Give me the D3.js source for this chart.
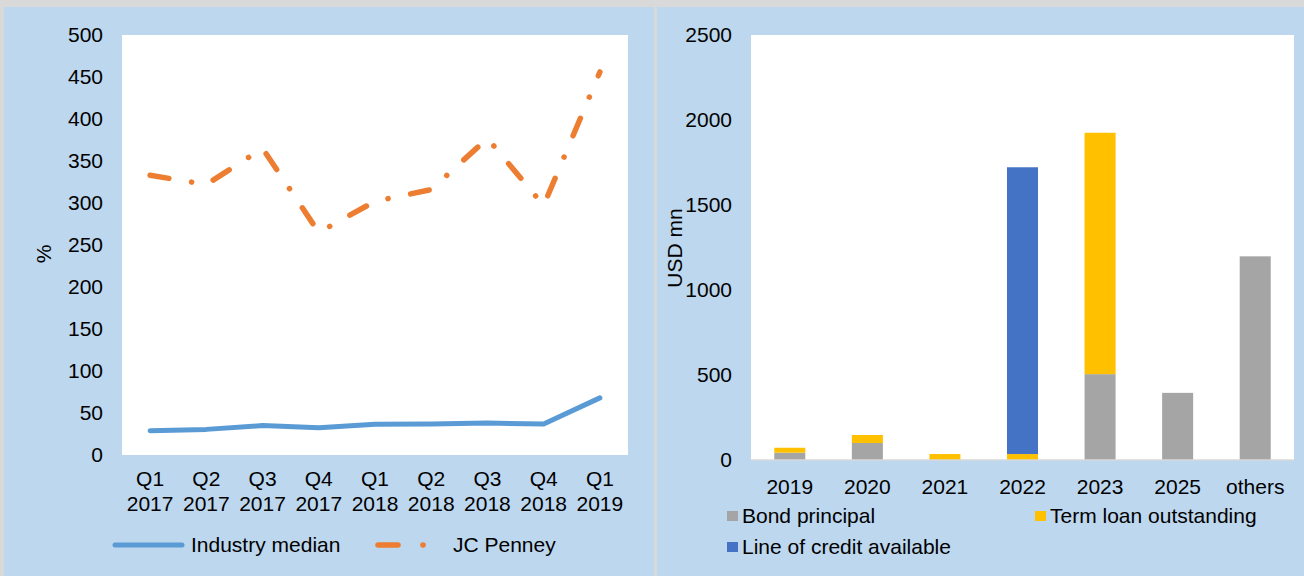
<!DOCTYPE html>
<html>
<head>
<meta charset="utf-8">
<script src="https://cdn.jsdelivr.net/npm/d3@7"></script>
<style>
  html, body { margin: 0; padding: 0; background: #d9d9d9; }
  svg { display: block; font-family: "Liberation Sans", Arial, sans-serif; }
</style>
</head>
<body>
<svg id="chart" width="1304" height="576"></svg>
<script>
// ---- data: left panel (coverage ratio, %) ----
const quarters = ["Q1 2017", "Q2 2017", "Q3 2017", "Q4 2017", "Q1 2018", "Q2 2018", "Q3 2018", "Q4 2018", "Q1 2019"];
const industryMedian = [29, 30.5, 35, 32.5, 36.5, 37, 38, 37, 68];
const jcPenney = [333, 322, 365, 265, 302, 316, 377, 297, 456];
const pctTicks = [0, 50, 100, 150, 200, 250, 300, 350, 400, 450, 500];

// ---- data: right panel (debt maturities, USD mn) ----
const years = ["2019", "2020", "2021", "2022", "2023", "2025", "others"];
const bondPrincipal = [43, 100, 0, 0, 505, 395, 1198];
const termLoan = [29, 47, 35, 35, 1420, 0, 0];
const lineOfCredit = [0, 0, 0, 1687, 0, 0, 0];
const usdTicks = [0, 500, 1000, 1500, 2000, 2500];

const svg = d3.select("#chart");
const fontSize = 21;

// panel backgrounds
svg.append("rect").attr("x", 4).attr("y", 7).attr("width", 650).attr("height", 569).attr("fill", "#bdd7ee");
svg.append("rect").attr("x", 657).attr("y", 7).attr("width", 647).attr("height", 569).attr("fill", "#bdd7ee");

// ================= left chart =================
const L = { left: 122, right: 628, top: 35, bottom: 455 };

svg.append("rect")
  .attr("x", L.left).attr("y", L.top)
  .attr("width", L.right - L.left).attr("height", L.bottom - L.top)
  .attr("fill", "#fff");

const xq = d3.scaleBand().domain(quarters).range([L.left, L.right]);
const yp = d3.scaleLinear().domain([0, 500]).range([L.bottom, L.top]);

const gl = svg.append("g");

gl.selectAll("text.ytick")
  .data(pctTicks)
  .enter()
  .append("text")
  .attr("class", "ytick")
  .attr("x", L.left - 19)
  .attr("y", d => yp(d))
  .attr("dy", "0.35em")
  .attr("text-anchor", "end")
  .style("font-size", fontSize + "px")
  .style("fill", "#000")
  .text(d => d);

const qLabels = gl.selectAll("text.xtick")
  .data(quarters)
  .enter()
  .append("text")
  .attr("class", "xtick")
  .attr("text-anchor", "middle")
  .style("font-size", fontSize + "px")
  .style("fill", "#000");
qLabels.append("tspan")
  .attr("x", d => xq(d) + xq.bandwidth() / 2)
  .attr("y", 479).attr("dy", "0.35em")
  .text(d => d.split(" ")[0]);
qLabels.append("tspan")
  .attr("x", d => xq(d) + xq.bandwidth() / 2)
  .attr("y", 504).attr("dy", "0.35em")
  .text(d => d.split(" ")[1]);

gl.append("text")
  .attr("transform", "translate(44,254) rotate(-90)")
  .attr("text-anchor", "middle")
  .attr("dy", "0.35em")
  .style("font-size", fontSize + "px")
  .text("%");

const line = d3.line()
  .x((d, i) => xq(quarters[i]) + xq.bandwidth() / 2)
  .y(d => yp(d));

gl.append("path")
  .datum(industryMedian)
  .attr("d", line)
  .attr("fill", "none")
  .attr("stroke", "#5b9bd5")
  .attr("stroke-width", 5)
  .attr("stroke-linejoin", "round")
  .attr("stroke-linecap", "round");

const dashPattern = "19,23,0.1,23";
gl.append("path")
  .datum(jcPenney)
  .attr("d", line)
  .attr("fill", "none")
  .attr("stroke", "#ed7d31")
  .attr("stroke-width", 5.5)
  .attr("stroke-linejoin", "round")
  .attr("stroke-linecap", "round")
  .attr("stroke-dasharray", dashPattern);

// left legend
gl.append("line")
  .attr("x1", 115).attr("x2", 182).attr("y1", 545).attr("y2", 545)
  .attr("stroke", "#5b9bd5").attr("stroke-width", 5).attr("stroke-linecap", "round");
gl.append("text")
  .attr("x", 191).attr("y", 545).attr("dy", "0.35em")
  .style("font-size", fontSize + "px").text("Industry median");
gl.append("line")
  .attr("x1", 378).attr("x2", 398).attr("y1", 545).attr("y2", 545)
  .attr("stroke", "#ed7d31").attr("stroke-width", 5.5).attr("stroke-linecap", "round");
gl.append("circle")
  .attr("cx", 423).attr("cy", 545).attr("r", 2.8).attr("fill", "#ed7d31");
gl.append("text")
  .attr("x", 453).attr("y", 545).attr("dy", "0.35em")
  .style("font-size", fontSize + "px").text("JC Penney");

// ================= right chart =================
const R = { left: 751, right: 1294, top: 35, bottom: 460 };

svg.append("rect")
  .attr("x", R.left).attr("y", R.top)
  .attr("width", R.right - R.left).attr("height", R.bottom - R.top)
  .attr("fill", "#fff");

const xy = d3.scaleBand().domain(years).range([R.left, R.right]).paddingInner(0.6).paddingOuter(0.3);
const yu = d3.scaleLinear().domain([0, 2500]).range([R.bottom, R.top]);

const gr = svg.append("g");

gr.selectAll("text.ytick")
  .data(usdTicks)
  .enter()
  .append("text")
  .attr("class", "ytick")
  .attr("x", R.left - 19)
  .attr("y", d => yu(d))
  .attr("dy", "0.35em")
  .attr("text-anchor", "end")
  .style("font-size", fontSize + "px")
  .text(d => d);

gr.selectAll("text.xtick")
  .data(years)
  .enter()
  .append("text")
  .attr("class", "xtick")
  .attr("x", d => xy(d) + xy.bandwidth() / 2)
  .attr("y", 487)
  .attr("dy", "0.35em")
  .attr("text-anchor", "middle")
  .style("font-size", fontSize + "px")
  .text(d => d);

gr.append("text")
  .attr("transform", "translate(675,248) rotate(-90)")
  .attr("text-anchor", "middle")
  .attr("dy", "0.35em")
  .style("font-size", fontSize + "px")
  .text("USD mn");

const rows = years.map((y, i) => ({
  year: y,
  bond: bondPrincipal[i],
  term: termLoan[i],
  credit: lineOfCredit[i]
}));
const keys = ["bond", "term", "credit"];
const colors = { bond: "#a5a5a5", term: "#ffc000", credit: "#4472c4" };
const stacked = d3.stack().keys(keys)(rows);

gr.selectAll("g.series")
  .data(stacked)
  .enter()
  .append("g")
  .attr("class", "series")
  .attr("fill", d => colors[d.key])
  .selectAll("rect")
  .data(d => d)
  .enter()
  .append("rect")
  .attr("x", d => xy(d.data.year))
  .attr("width", xy.bandwidth())
  .attr("y", d => yu(d[1]))
  .attr("height", d => yu(d[0]) - yu(d[1]));

// baseline
gr.append("line")
  .attr("x1", R.left).attr("x2", R.right)
  .attr("y1", R.bottom).attr("y2", R.bottom)
  .attr("stroke", "#d9d9d9").attr("stroke-width", 1.5);

// right legend
const legendItems = [
  { key: "bond", label: "Bond principal", x: 727, y: 516 },
  { key: "term", label: "Term loan outstanding", x: 1035, y: 516 },
  { key: "credit", label: "Line of credit available", x: 727, y: 547 }
];
const leg = gr.selectAll("g.legend")
  .data(legendItems)
  .enter()
  .append("g")
  .attr("class", "legend");
leg.append("rect")
  .attr("x", d => d.x).attr("y", d => d.y - 5)
  .attr("width", 11).attr("height", 10)
  .attr("fill", d => colors[d.key]);
leg.append("text")
  .attr("x", d => d.x + 15).attr("y", d => d.y)
  .attr("dy", "0.35em")
  .style("font-size", fontSize + "px")
  .text(d => d.label);
</script>
</body>
</html>
